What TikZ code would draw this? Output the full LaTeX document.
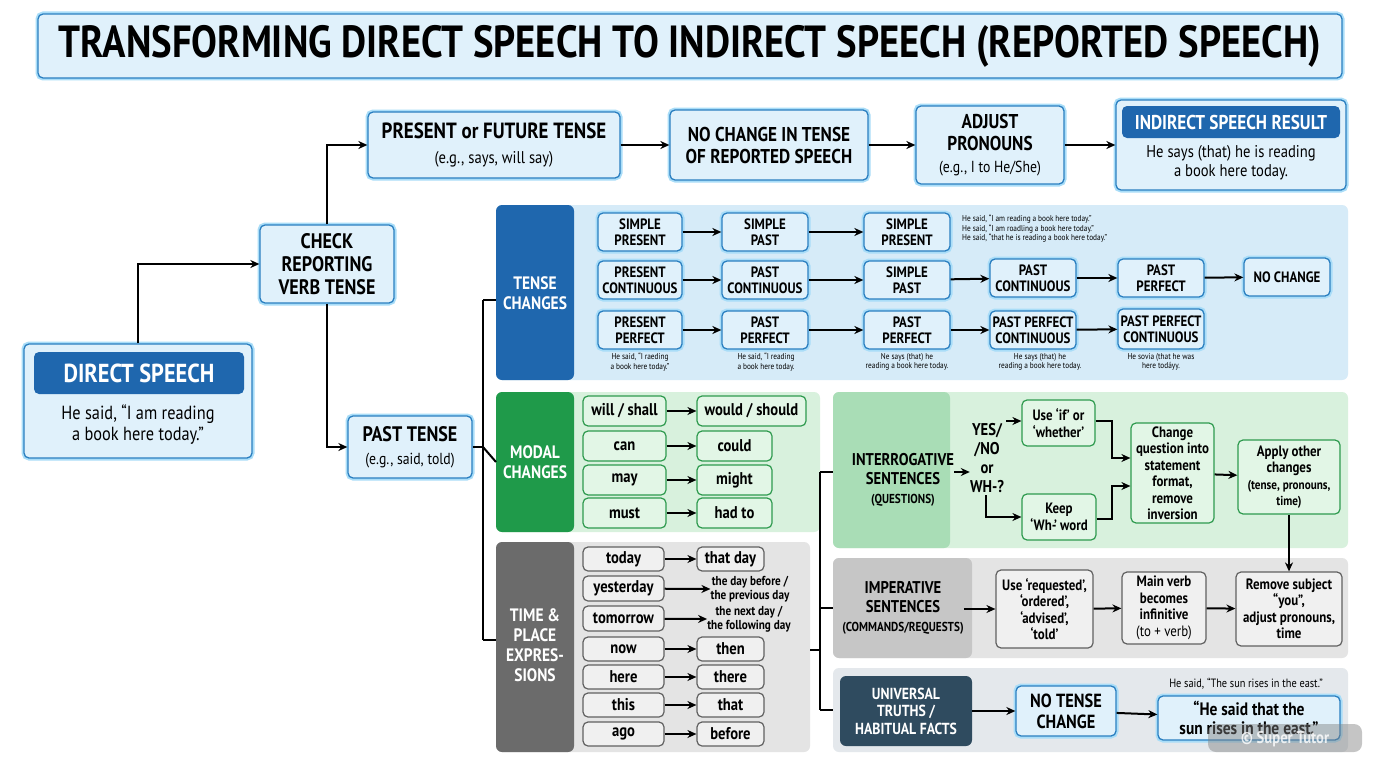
\documentclass[tikz,border=0pt]{standalone}
\usepackage{fontspec}
\setmainfont{PT Sans}[FakeStretch=0.86]
\usetikzlibrary{arrows.meta}
\definecolor{bord}{HTML}{2A7FC0}
\definecolor{bfill}{HTML}{E0F1FB}
\definecolor{glow}{HTML}{A9DDF8}
\definecolor{hblue}{HTML}{1F67AE}
\definecolor{tband}{HTML}{D6EBF8}
\definecolor{mband}{HTML}{D8F1DD}
\definecolor{gband}{HTML}{E4E4E4}
\definecolor{uband}{HTML}{E4E8EC}
\definecolor{gbord}{HTML}{2E9A4E}
\definecolor{gfill}{HTML}{E2F6E6}
\definecolor{glab}{HTML}{1F9A4A}
\definecolor{glab2}{HTML}{A9DDB6}
\definecolor{grlab}{HTML}{6B6B6B}
\definecolor{grlab2}{HTML}{C6C6C6}
\definecolor{slate}{HTML}{2F4B5F}
\newcommand\fs[1]{\fontsize{#1}{\fpeval{#1*1.1}}\selectfont}
\newcommand\B[7]{\node[#6, minimum width={#4pt-#2pt}, minimum height={#5pt-#3pt}] (#1) at ({(#2+#4)/2},{(#3+#5)/2}) {#7};}
\newcommand\R[6]{\fill[#6, rounded corners=6] (#2,#3) rectangle (#4,#5); \coordinate (#1) at (#2,{(#3+#5)/2});}
\tikzset{
 bx/.style={draw=bord, fill=bfill, rounded corners=5, line width=1.3, preaction={draw=glow, line width=5}, align=center, font=\bfseries, inner sep=0},
 gx/.style={draw=gbord, fill=gfill, rounded corners=5, line width=1.2, align=center, font=\bfseries, inner sep=0},
 rx/.style={draw=gray!75!black, fill=gray!12, rounded corners=5, line width=1.2, align=center, font=\bfseries, inner sep=0},
 lab/.style={align=center, font=\bfseries, inner sep=0},
 ar/.style={-{Stealth[length=9,width=8]}, line width=2},
 ln/.style={line width=2},
}
\begin{document}
\begin{tikzpicture}[x=1pt,y=-1pt]
\useasboundingbox (0,0) rectangle (1376,768);
\fill[white] (0,0) rectangle (1376,768);
% title
\B{title}{38}{14}{1342}{78}{bx,font=\bfseries\fs{45}}{TRANSFORMING DIRECT SPEECH TO INDIRECT SPEECH (REPORTED SPEECH)}
% top row
\B{pres}{368}{112}{620}{178}{bx,font=\bfseries\fs{22}}{PRESENT or FUTURE TENSE\\{\fs{17}\mdseries(e.g., says, will say)}}
\B{noch}{670}{110}{868}{180}{bx,font=\bfseries\fs{20}}{NO CHANGE IN TENSE\\OF REPORTED SPEECH}
\B{adj}{916}{106}{1064}{184}{bx,font=\bfseries\fs{20}}{ADJUST\\PRONOUNS\\{\fs{16}\mdseries(e.g., I to He/She)}}
\B{res}{1116}{100}{1346}{190}{bx}{}
\B{resh}{1122}{106}{1340}{138}{fill=hblue,rounded corners=5,text=white,font=\bfseries\fs{20}}{INDIRECT SPEECH RESULT}
\node[lab,font=\mdseries\fs{17}] (rest) at (1231,163) {He says (that) he is reading\\a book here today.};
\B{check}{260}{225}{394}{303}{bx,font=\bfseries\fs{21}}{CHECK\\REPORTING\\VERB TENSE}
\B{direct}{24}{344}{252}{458}{bx}{}
\B{directh}{34}{352}{244}{394}{fill=hblue,rounded corners=5,text=white,font=\bfseries\fs{26}}{DIRECT SPEECH}
\node[lab,font=\mdseries\fs{19}] (dirt) at (138,425) {He said, “I am reading\\a book here today.”};
\B{past}{348}{416}{472}{478}{bx,font=\bfseries\fs{21}}{PAST TENSE\\{\fs{16}\mdseries(e.g., said, told)}}
\draw[ar] (direct.north) |- (check.west);
\draw[ar] (check.north) |- (pres.west);
\draw[ar] (check.south) |- (past.west);
\draw[ar] (pres) -- (noch); \draw[ar] (noch) -- (adj); \draw[ar] (adj) -- (res);
% bands
\R{tb}{496}{205}{1348}{380}{tband}
\fill[hblue, rounded corners=6] (496,205) rectangle (574,380);
\node[lab,text=white,font=\bfseries\fs{18}] (tbl) at (535,293) {TENSE\\CHANGES};
\R{mb}{496}{392}{820}{532}{mband}
\fill[glab, rounded corners=6] (496,392) rectangle (574,532);
\node[lab,text=white,font=\bfseries\fs{18}] (mbl) at (535,462) {MODAL\\CHANGES};
\R{gb}{496}{542}{810}{752}{gband}
\fill[grlab, rounded corners=6] (496,542) rectangle (574,752);
\node[lab,text=white,font=\bfseries\fs{18}] (gbl) at (535,645) {TIME \&\\PLACE\\EXPRES-\\SIONS};
\R{ib}{833}{392}{1348}{548}{mband}
\fill[glab2, rounded corners=6] (833,392) rectangle (950,548);
\node[lab,font=\bfseries\fs{17}] (ibl) at (903,480) {INTERROGATIVE\\SENTENCES\\{\fs{13}(QUESTIONS)}};
\R{pb}{833}{558}{1348}{658}{gband}
\fill[grlab2, rounded corners=6] (833,558) rectangle (972,658);
\node[lab,font=\bfseries\fs{17}] (pbl) at (903,608) {IMPERATIVE\\SENTENCES\\{\fs{13}(COMMANDS/REQUESTS)}};
\R{ub}{833}{668}{1348}{752}{uband}
\B{ubl}{840}{676}{972}{746}{fill=slate,rounded corners=6,text=white,font=\bfseries\fs{16},align=center}{UNIVERSAL\\TRUTHS /\\HABITUAL FACTS}
% connectors from past tense
\coordinate (j1) at (483,447);
\coordinate (j1t) at (483,300);
\coordinate (j1b) at (483,640);
\draw[ln] (past.east) -- (j1);
\draw[ln] (j1t) -- (j1b);
\draw[ln] (j1t) -- (496,300);
\draw[ln] (j1) -- (mb);
\draw[ln] (j1b) -- (496,640);
\coordinate (j2a) at (820,472);
\coordinate (j2b) at (820,710);
\coordinate (j2m) at (820,650);
\draw[ln] (810,650) -- (j2m);
\draw[ln] (j2a) -- (j2b);
\draw[ln] (j2a) -- (ib |- j2a);
\draw[ln] (820,608) -- (pb);
\draw[ln] (j2b) -- (833,710);
% tense boxes
\tikzset{tx/.style={bx,font=\bfseries\fs{15}}}
\B{a1}{598}{213}{682}{251}{tx}{SIMPLE\\PRESENT}
\B{a2}{722}{213}{808}{251}{tx}{SIMPLE\\PAST}
\B{a3}{864}{213}{950}{251}{tx}{SIMPLE\\PRESENT}
\draw[ar] (a1) -- (a2); \draw[ar] (a2) -- (a3);
\node[lab,anchor=north west,font=\mdseries\fs{8.5},align=left] (a4) at (962,215) {He said, “I am reading a book here today.”\\He said, “I am roadling a book here today.”\\He said, “that he is reading a book here today.”};
\B{b1}{598}{261}{682}{299}{tx}{PRESENT\\CONTINUOUS}
\B{b2}{722}{261}{808}{299}{tx}{PAST\\CONTINUOUS}
\B{b3}{864}{261}{950}{299}{tx}{SIMPLE\\PAST}
\B{b4}{990}{259}{1076}{297}{tx}{PAST\\CONTINUOUS}
\B{b5}{1118}{259}{1204}{297}{tx}{PAST\\PERFECT}
\B{b6}{1244}{258}{1330}{296}{tx}{NO CHANGE}
\draw[ar] (b1) -- (b2); \draw[ar] (b2) -- (b3); \draw[ar] (b3) -- (b4); \draw[ar] (b4) -- (b5); \draw[ar] (b5) -- (b6);
\B{c1}{598}{311}{682}{349}{tx}{PRESENT\\PERFECT}
\B{c2}{722}{311}{808}{349}{tx}{PAST\\PERFECT}
\B{c3}{864}{311}{950}{349}{tx}{PAST\\PERFECT}
\B{c4}{990}{311}{1076}{349}{tx}{PAST PERFECT\\CONTINUOUS}
\B{c5}{1118}{309}{1204}{349}{tx}{PAST PERFECT\\CONTINUOUS}
\draw[ar] (c1) -- (c2); \draw[ar] (c2) -- (c3); \draw[ar] (c3) -- (c4); \draw[ar] (c4) -- (c5);
\tikzset{note/.style={lab,font=\mdseries\fs{8.5},anchor=north}}
\node[note] (n1) at (640,353) {He said, “I raeding\\a book here today.”};
\node[note] (n2) at (766,353) {He said, “I reading\\a book here today.};
\node[note] (n3) at (907,353) {Ne says (that) he\\reading a book here today.};
\node[note] (n4) at (1040,353) {He says (that) he\\reading a book here today.};
\node[note] (n5) at (1161,353) {He sovia (that he was\\here todáyy.};
% modal
\tikzset{mx/.style={gx,font=\bfseries\fs{17}}}
\B{m1}{583}{396}{666}{426}{mx}{will / shall}
\B{m1r}{697}{396}{806}{426}{mx}{would / should}
\B{m2}{583}{431}{666}{461}{mx}{can}
\B{m2r}{697}{431}{772}{461}{mx}{could}
\B{m3}{583}{465}{666}{495}{mx}{may}
\B{m3r}{697}{465}{772}{495}{mx}{might}
\B{m4}{583}{498}{666}{528}{mx}{must}
\B{m4r}{697}{498}{772}{528}{mx}{had to}
\foreach \i in {1,2,3,4}{\draw[ar] (m\i) -- (m\i r);}
% time
\tikzset{tt/.style={rx,font=\bfseries\fs{17}}}
\B{t1}{583}{547}{664}{571}{tt}{today}
\B{t1r}{697}{547}{764}{571}{tt}{that day}
\B{t2}{583}{576}{664}{601}{tt}{yesterday}
\node[lab,font=\bfseries\fs{13}] (t2r) at (750,589) {the day before /\\the previous day};
\B{t3}{583}{606}{664}{631}{tt}{tomorrow}
\node[lab,font=\bfseries\fs{13}] (t3r) at (749,619) {the next day /\\the following day};
\B{t4}{583}{637}{664}{661}{tt}{now}
\B{t4r}{697}{637}{764}{661}{tt}{then}
\B{t5}{583}{665}{664}{689}{tt}{here}
\B{t5r}{697}{665}{764}{689}{tt}{there}
\B{t6}{583}{693}{664}{717}{tt}{this}
\B{t6r}{697}{693}{764}{717}{tt}{that}
\B{t7}{583}{722}{664}{746}{tt}{ago}
\B{t7r}{697}{722}{764}{746}{tt}{before}
\foreach \i in {1,4,5,6,7}{\draw[ar] (t\i) -- (t\i r);}
\draw[ar] (t2) -- (t2r.west); \draw[ar] (t3) -- (t3r.west);
% interrogative
\node[lab,font=\bfseries\fs{17}] (yn) at (987,458) {YES/\\/NO\\or\\WH-?};
\tikzset{ix/.style={gx,font=\bfseries\fs{15}}}
\B{uif}{1022}{400}{1095}{446}{ix}{Use ‘if’ or\\‘whether’}
\B{keep}{1022}{494}{1096}{540}{ix}{Keep\\‘Wh-’ word}
\B{chq}{1131}{423}{1214}{523}{ix}{Change\\question into\\statement\\format,\\remove\\inversion}
\B{app}{1238}{440}{1340}{514}{ix}{Apply other\\changes\\{\fs{13}(tense, pronouns,}\\{\fs{13}time)}}
\draw[ar] (ibl.east |- 0,472) -- (yn.west |- 0,472);
\draw[ar] (1006,421) -- (uif.west |- 0,421);
\draw[ar] (986,495) |- (keep.west);
\draw[ar] (uif.east |- 0,421) -| (1112,458) -- (chq.west |- 0,458);
\draw[ar] (keep.east |- 0,519) -| (1112,486) -- (chq.west |- 0,486);
\draw[ar] (chq) -- (app);
% imperative
\tikzset{px/.style={rx,font=\bfseries\fs{15}}}
\B{req}{996}{570}{1093}{648}{px}{Use ‘requested’,\\‘ordered’,\\‘advised’,\\‘told’}
\B{mv}{1122}{572}{1206}{644}{px}{Main verb\\becomes\\infinitive\\{\mdseries(to + verb)}}
\B{rem}{1236}{572}{1342}{646}{px}{Remove subject\\“you”,\\adjust pronouns,\\time}
\draw[ar] (pbl.east |- req) -- (req);
\draw[ar] (req) -- (mv); \draw[ar] (mv) -- (rem);
\draw[ar] (app) -- (rem);
% universal
\B{ntc}{1016}{686}{1116}{736}{bx,font=\bfseries\fs{19}}{NO TENSE\\CHANGE}
\B{sun}{1158}{696}{1340}{740}{bx,font=\bfseries\fs{18}}{“He said that the\\sun rises in the east.”}
\node[lab,font=\mdseries\fs{12}] (sunq) at (1246,684) {He said, “The sun rises in the east.”};
\draw[ar] (ubl) -- (ntc); \draw[ar] (ntc) -- (sun);
\fill[gray, opacity=0.45, rounded corners=8] (1208,724) rectangle (1362,752);
\node[lab,text=white,opacity=0.8,font=\bfseries\fs{17}] (wm) at (1285,739) {© Super Tutor};
\end{tikzpicture}
\end{document}
